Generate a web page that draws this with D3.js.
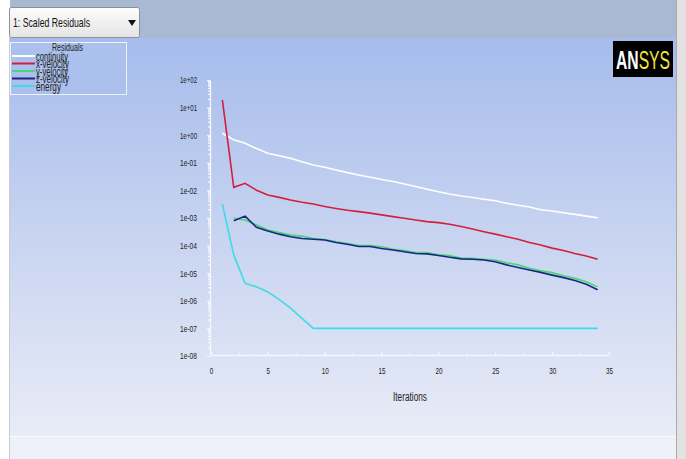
<!DOCTYPE html>
<html>
<head>
<meta charset="utf-8">
<script src="https://cdn.jsdelivr.net/npm/d3@7"></script>
<style>
  body { margin: 0; background: #fff; }
  svg { display: block; }
  text { font-family: "Liberation Sans", Arial, sans-serif; }
</style>
</head>
<body>
<svg id="chart" width="686" height="459"></svg>
<script>
// residual history (iterations 1..34)
const iterations = d3.range(1, 35);
const seriesNames = ["continuity", "x-velocity", "y-velocity", "z-velocity", "energy"];
const seriesColors = ["#ffffff", "#d2203c", "#45d874", "#1a2585", "#3fdbe6"];

const continuity = [1.17, 0.68, 0.51, 0.33, 0.22, 0.18, 0.145, 0.11, 0.083, 0.069,
    0.055, 0.044, 0.036, 0.030, 0.025, 0.021, 0.017, 0.0138, 0.011, 0.0089,
    0.0074, 0.0063, 0.0055, 0.0048, 0.0042, 0.0034, 0.0029, 0.0025, 0.0020, 0.0018,
    0.00155, 0.00135, 0.00117, 0.00102];
const xVelocity = [19, 0.0129, 0.018, 0.0102, 0.0068, 0.0056, 0.0045, 0.0037, 0.0032, 0.0026,
    0.0022, 0.0019, 0.0017, 0.0015, 0.0013, 0.00112, 0.00098, 0.00085, 0.00074, 0.00068,
    0.00059, 0.00049, 0.0004, 0.00032, 0.00026, 0.00021, 0.00017, 0.00013, 0.000105, 8.1e-5,
    6.6e-5, 5.2e-5, 4.2e-5, 3.2e-5];
// velocity y/z start at iteration 2
const yVelocity = [null, 9.8e-4, 8.5e-4, 5.6e-4, 3.7e-4, 3.0e-4, 2.4e-4, 2.2e-4, 1.8e-4, 1.66e-4,
    1.38e-4, 1.2e-4, 1.0e-4, 1.0e-4, 9.1e-5, 7.4e-5, 6.6e-5, 5.6e-5, 5.6e-5, 4.6e-5,
    4.4e-5, 3.5e-5, 3.5e-5, 3.2e-5, 3.0e-5, 2.4e-5, 2.0e-5, 1.5e-5, 1.23e-5, 1.05e-5,
    8.1e-6, 6.5e-6, 4.9e-6, 3.2e-6];
const zVelocity = [null, 7.9e-4, 1.17e-3, 4.6e-4, 3.4e-4, 2.6e-4, 2.1e-4, 1.8e-4, 1.7e-4, 1.6e-4,
    1.3e-4, 1.12e-4, 9.3e-5, 9.3e-5, 7.9e-5, 6.9e-5, 6.0e-5, 5.2e-5, 5.0e-5, 4.4e-5,
    3.8e-5, 3.3e-5, 3.2e-5, 3.0e-5, 2.6e-5, 2.0e-5, 1.6e-5, 1.3e-5, 1.07e-5, 8.5e-6,
    6.9e-6, 5.4e-6, 4.0e-6, 2.5e-6];
const energy = [3.2e-3, 4.6e-5, 4.3e-6, 3.2e-6, 2.1e-6, 1.1e-6, 5.4e-7, 2.3e-7, 1.0e-7, 1.0e-7,
    1.0e-7, 1.0e-7, 1.0e-7, 1.0e-7, 1.0e-7, 1.0e-7, 1.0e-7, 1.0e-7, 1.0e-7, 1.0e-7,
    1.0e-7, 1.0e-7, 1.0e-7, 1.0e-7, 1.0e-7, 1.0e-7, 1.0e-7, 1.0e-7, 1.0e-7, 1.0e-7,
    1.0e-7, 1.0e-7, 1.0e-7, 1.0e-7];

const yTicks = [1e2, 1e1, 1e0, 1e-1, 1e-2, 1e-3, 1e-4, 1e-5, 1e-6, 1e-7, 1e-8];
const xTicks = [0, 5, 10, 15, 20, 25, 30, 35];
const legendWidths = [32, 33, 32, 33, 25];

const svg = d3.select("#chart");
const defs = svg.append("defs");

// squeeze text into a narrow look (no condensed font installed)
function narrow(sel, w) {
    sel.attr("textLength", w).attr("lengthAdjust", "spacingAndGlyphs");
}

const bg = defs.append("linearGradient").attr("id", "bg")
    .attr("x1", 0).attr("y1", 0).attr("x2", 0).attr("y2", 1);
bg.append("stop").attr("offset", "0%").attr("stop-color", "#a6bcec");
bg.append("stop").attr("offset", "55%").attr("stop-color", "#cbd6f1");
bg.append("stop").attr("offset", "100%").attr("stop-color", "#e8ecf7");

const btn = defs.append("linearGradient").attr("id", "btn")
    .attr("x1", 0).attr("y1", 0).attr("x2", 0).attr("y2", 1);
btn.append("stop").attr("offset", "0%").attr("stop-color", "#fdfdfd");
btn.append("stop").attr("offset", "100%").attr("stop-color", "#e4e4e4");

defs.append("clipPath").attr("id", "legclip")
    .append("rect").attr("x", 10).attr("y", 42).attr("width", 117).attr("height", 53);

// window frame
svg.append("rect").attr("x", 10).attr("y", 38).attr("width", 666).attr("height", 398).attr("fill", "url(#bg)");
svg.append("rect").attr("x", 10).attr("y", 0).attr("width", 666).attr("height", 38).attr("fill", "#a9b9d3");
svg.append("rect").attr("x", 10).attr("y", 436).attr("width", 666).attr("height", 23).attr("fill", "#eef1f8");
svg.append("line").attr("x1", 10).attr("x2", 676).attr("y1", 436.5).attr("y2", 436.5).attr("stroke", "#fafbfd");
svg.append("line").attr("x1", 9.5).attr("x2", 9.5).attr("y1", 38).attr("y2", 459).attr("stroke", "#c9ccd3");
svg.append("rect").attr("x", 676).attr("y", 0).attr("width", 10).attr("height", 459).attr("fill", "#e2e2e2");
svg.append("line").attr("x1", 676.5).attr("x2", 676.5).attr("y1", 0).attr("y2", 459).attr("stroke", "#a9a9a9");

// dropdown
svg.append("rect").attr("x", 9.5).attr("y", 7.5).attr("width", 130).attr("height", 30).attr("rx", 2)
    .attr("fill", "url(#btn)").attr("stroke", "#8d8f94");
svg.append("text").attr("x", 13).attr("y", 27).attr("font-size", 13).attr("fill", "#111")
    .text("1: Scaled Residuals").call(narrow, 77);
svg.append("path").attr("d", "M128,20 L136,20 L132,26 Z").attr("fill", "#111");

// logo
svg.append("rect").attr("x", 613).attr("y", 41).attr("width", 60).attr("height", 36).attr("fill", "#000");
const logo = svg.append("text").attr("x", 616).attr("y", 69).attr("font-size", 25)
    .call(narrow, 54);
logo.append("tspan").attr("fill", "#fff").attr("font-weight", "bold").text("AN");
logo.append("tspan").attr("fill", "#f2e53a").text("SYS");

// scales
const x = d3.scaleLinear().domain([0, 35]).range([211, 609]);
const y = d3.scaleLog().domain([1e-8, 1e2]).range([356, 80]);

const fmt = d => {
    const e = Math.round(Math.log10(d));
    return "1e" + (e < 0 ? "-" : "+") + String(Math.abs(e)).padStart(2, "0");
};

// y axis
const yAxis = svg.append("g").attr("transform", "translate(210,0)")
    .call(d3.axisLeft(y).tickValues(yTicks).tickFormat(fmt).tickSizeInner(3).tickSizeOuter(0).tickPadding(10));
const minorY = [];
for (let e = -8; e < 2; e++) for (let m = 2; m < 10; m++) minorY.push(m * Math.pow(10, e));
yAxis.selectAll(".minor").data(minorY).enter().append("line")
    .attr("x1", -2).attr("x2", 0).attr("y1", d => y(d)).attr("y2", d => y(d));

// x axis
const xAxis = svg.append("g").attr("transform", "translate(0,355)")
    .call(d3.axisBottom(x).tickValues(xTicks).tickSizeInner(-3).tickSizeOuter(0).tickPadding(13));
xAxis.selectAll(".minor").data(d3.range(2.5, 35, 5)).enter().append("line")
    .attr("x1", d => x(d)).attr("x2", d => x(d)).attr("y1", 0).attr("y2", -2);

svg.selectAll(".domain").attr("stroke", "#f5f7fc").attr("stroke-width", 1.3);
yAxis.selectAll("line").attr("stroke", "#f5f7fc").attr("stroke-width", 1.2);
xAxis.selectAll("line").attr("stroke", "#f5f7fc").attr("stroke-width", 1.2);
yAxis.selectAll(".tick text").attr("font-size", 9).attr("fill", "#222").call(narrow, 17);
xAxis.selectAll(".tick text").attr("font-size", 9).attr("fill", "#222")
    .each(function (d) { d3.select(this).call(narrow, String(d).length * 3.5); });

svg.append("text").attr("x", 410).attr("y", 401).attr("text-anchor", "middle")
    .attr("font-size", 12).attr("fill", "#222").text("Iterations").call(narrow, 34);

// residual lines
const allSeries = [continuity, xVelocity, yVelocity, zVelocity, energy];
const line = d3.line()
    .defined(d => d.v != null)
    .x(d => x(d.i))
    .y(d => y(d.v));

allSeries.forEach((vals, k) => {
    const pts = iterations.map((it, j) => ({ i: it, v: vals[j] }));
    svg.append("path").datum(pts)
        .attr("fill", "none")
        .attr("stroke", seriesColors[k])
        .attr("stroke-width", 1.6)
        .attr("d", line);
});

// legend
const leg = svg.append("g").attr("clip-path", "url(#legclip)");
leg.append("rect").attr("x", 10.5).attr("y", 42.5).attr("width", 116).attr("height", 52)
    .attr("fill", "#abc0ec").attr("stroke", "#eef2fb");
leg.append("text").attr("x", 52).attr("y", 51).attr("font-size", 10)
    .attr("fill", "#222").text("Residuals").call(narrow, 31);
seriesNames.forEach((name, k) => {
    const ly = 56 + k * 7.5;
    leg.append("line").attr("x1", 12).attr("x2", 35).attr("y1", ly).attr("y2", ly)
        .attr("stroke", seriesColors[k]).attr("stroke-width", 2);
    leg.append("text").attr("x", 36).attr("y", ly + 4.5).attr("font-size", 12)
        .attr("fill", "#222").text(name).call(narrow, legendWidths[k]);
});
</script>
</body>
</html>
